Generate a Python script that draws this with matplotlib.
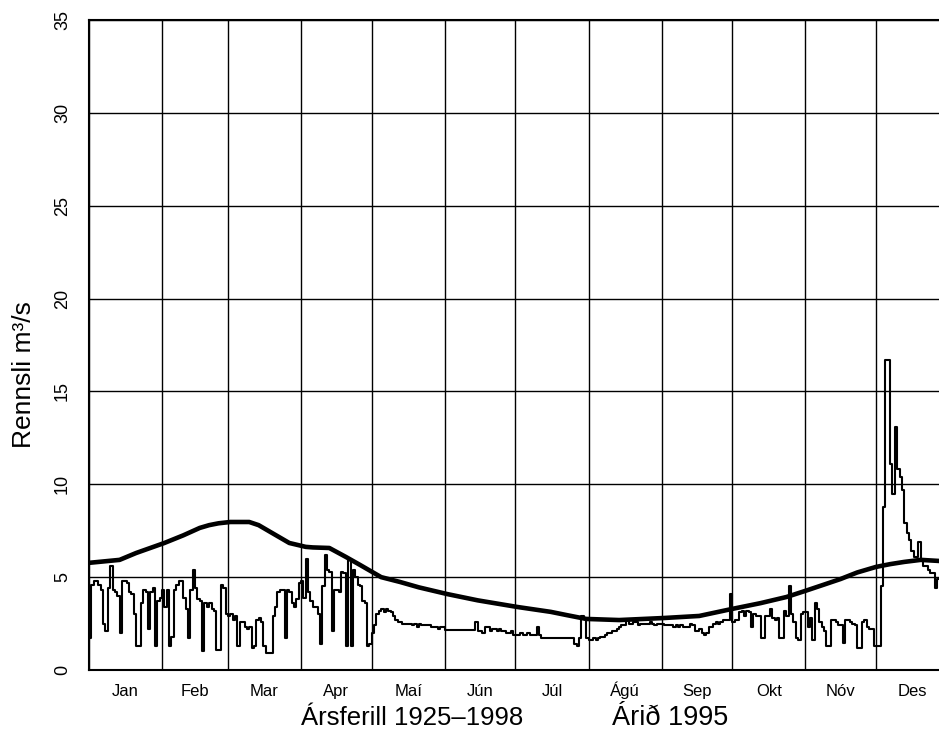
"""
Daily discharge 1995 against the long-term annual curve 1925-1998.
"""

import numpy as np
import matplotlib
matplotlib.use("Agg")
import matplotlib.pyplot as plt

plt.rcParams["font.family"] = ["Liberation Sans", "DejaVu Sans"]

months = ["Jan", "Feb", "Mar", "Apr", "Maí", "Jún", "Júl", "Ágú", "Sep", "Okt", "Nóv", "Des"]
month_days = [31, 28, 31, 30, 31, 30, 31, 31, 30, 31, 30, 31]
y_ticks = [0, 5, 10, 15, 20, 25, 30, 35]

# long-term annual curve 1925-1998 (day of year, m3/s)
curve_day = [0, 13, 20, 32, 40, 47, 51, 55, 60, 68, 72, 77, 85, 92, 95, 102,
             109, 115, 124, 132, 140, 152, 165, 182, 196, 203, 211, 225, 244,
             259, 273, 285, 296, 304, 312, 319, 326, 334, 340, 346, 353, 361, 364]
curve_q = [5.77, 5.93, 6.3, 6.84, 7.25, 7.65, 7.8, 7.9, 7.97, 7.97, 7.8, 7.43,
           6.84, 6.63, 6.6, 6.57, 6.09, 5.66, 5.0, 4.74, 4.45, 4.09, 3.75, 3.39,
           3.13, 2.95, 2.75, 2.69, 2.8, 2.91, 3.29, 3.6, 3.93, 4.26, 4.6, 4.9,
           5.25, 5.55, 5.7, 5.82, 5.93, 5.87, 5.85]

# daily discharge 1995 (m3/s), one value per day
q_jan = [1.7, 4.6, 4.8, 4.8, 4.6, 4.3, 2.5, 2.1, 4.4, 5.6, 4.3, 4.2, 4.0, 2.0,
         4.8, 4.8, 4.7, 4.2, 4.1, 3.0, 1.3, 1.3, 3.6, 4.3, 4.2, 2.2, 4.2, 4.4,
         1.3, 3.7, 3.9]
q_feb = [4.3, 3.4, 4.3, 1.3, 1.8, 4.3, 4.6, 4.8, 4.8, 3.9, 3.3, 1.7, 4.3, 5.4,
         4.4, 3.8, 3.7, 1.0, 3.6, 3.4, 3.6, 3.3, 3.2, 1.1, 1.1, 4.6, 4.4, 3.0]
q_mar = [2.9, 3.0, 2.7, 2.9, 1.3, 2.6, 2.6, 2.3, 2.2, 2.3, 1.2, 1.3, 2.7, 2.8,
         2.6, 1.3, 0.9, 0.9, 0.9, 2.9, 3.4, 4.2, 4.3, 4.3, 1.7, 4.3, 4.2, 3.6,
         3.4, 3.8, 4.7]
q_apr = [4.8, 3.9, 6.0, 4.2, 3.7, 3.4, 3.4, 3.0, 1.4, 4.5, 6.2, 5.4, 5.3, 2.1,
         4.3, 4.3, 4.2, 5.3, 5.2, 1.3, 5.9, 1.3, 5.4, 5.0, 4.6, 4.5, 3.7, 3.6,
         1.3, 1.4]
q_may = [2.0, 2.4, 3.0, 3.2, 3.3, 3.1, 3.3, 3.2, 3.1, 2.9, 2.7, 2.6, 2.6, 2.5,
         2.5, 2.5, 2.5, 2.4, 2.5, 2.3, 2.5, 2.4, 2.4, 2.4, 2.4, 2.3, 2.3, 2.3,
         2.2, 2.3, 2.3]
q_jun = [2.15, 2.15, 2.15, 2.15, 2.15, 2.15, 2.15, 2.15, 2.15, 2.15, 2.15,
         2.15, 2.15, 2.6, 2.1, 2.1, 2.0, 2.3, 2.3, 2.1, 2.2, 2.2, 2.1, 2.2,
         2.1, 2.1, 2.0, 2.0, 2.1, 1.9]
q_jul = [1.9, 1.9, 2.0, 1.9, 1.9, 2.0, 1.9, 1.9, 1.9, 2.3, 1.9, 1.7, 1.7, 1.7,
         1.7, 1.7, 1.7, 1.7, 1.7, 1.7, 1.7, 1.7, 1.7, 1.7, 1.7, 1.4, 1.3, 1.7,
         2.9, 2.8, 1.7]
q_aug = [1.6, 1.6, 1.7, 1.6, 1.7, 1.8, 1.8, 1.9, 2.0, 2.0, 2.1, 2.1, 2.2, 2.3,
         2.4, 2.4, 2.7, 2.5, 2.5, 2.6, 2.6, 2.4, 2.5, 2.5, 2.5, 2.5, 2.6, 2.5,
         2.4, 2.5, 2.5]
q_sep = [2.5, 2.4, 2.4, 2.4, 2.4, 2.3, 2.4, 2.3, 2.4, 2.3, 2.3, 2.3, 2.5, 2.4,
         2.1, 2.1, 2.2, 2.0, 1.9, 2.0, 2.3, 2.3, 2.5, 2.6, 2.5, 2.6, 2.7, 2.7,
         2.7, 4.1]
q_oct = [2.6, 2.7, 2.7, 3.1, 3.2, 2.9, 3.2, 3.1, 2.3, 3.0, 2.9, 2.9, 1.7, 1.7,
         2.9, 2.9, 3.3, 2.8, 2.7, 2.8, 1.7, 1.7, 3.2, 2.9, 4.5, 3.0, 2.6, 1.7,
         1.6, 3.0, 3.1]
q_nov = [3.1, 2.3, 2.8, 1.6, 3.6, 3.3, 2.6, 2.3, 2.1, 1.3, 1.3, 2.7, 2.7, 2.6,
         2.4, 2.4, 1.45, 2.7, 2.7, 2.6, 2.5, 2.4, 1.2, 1.2, 2.6, 2.7, 2.3, 2.2,
         2.2, 1.3]
q_dec = [1.3, 1.3, 4.5, 8.8, 16.7, 16.7, 11.1, 9.5, 13.1, 10.8, 10.4, 9.7, 7.9,
         7.4, 7.0, 6.4, 6.1, 6.1, 6.9, 5.9, 5.6, 5.6, 5.4, 5.2, 5.2, 4.4, 4.9,
         4.8, 4.8, 4.8, 4.8]

q_1995 = q_jan + q_feb + q_mar + q_apr + q_may + q_jun + q_jul + q_aug + q_sep + q_oct + q_nov + q_dec
days = np.arange(len(q_1995))

fig = plt.figure(figsize=(9.39, 7.36), dpi=100)
# plot frame runs past the right edge of the picture, as in the scan
ax = fig.add_axes([89 / 939, 66 / 736, 860 / 939, 650 / 736])

ax.plot(days, q_1995, color="black", lw=1.5, drawstyle="steps-post", zorder=3)
ax.plot(curve_day, curve_q, color="black", lw=3.3, solid_capstyle="round", zorder=4)

starts = np.concatenate([[0], np.cumsum(month_days)[:-1]])
mids = starts + np.array(month_days) / 2
ax.set_xlim(0, 365)
ax.set_ylim(0, 35)
ax.set_xticks(starts)
ax.set_xticks(mids, minor=True)
ax.set_xticklabels([])
ax.set_xticklabels(months, minor=True, fontsize=12)
for lab in ax.get_xticklabels(minor=True):
    lab.set_va("baseline")
ax.set_yticks(y_ticks)
ax.set_yticklabels([str(v) for v in y_ticks], rotation=90, va="center", fontsize=13)
ax.tick_params(axis="both", which="both", length=0)
ax.tick_params(axis="y", pad=13)
ax.tick_params(axis="x", which="minor", pad=19)

ax.grid(True, which="major", color="black", lw=1.0)
for s in ax.spines.values():
    s.set_linewidth(1.5)

ax.set_ylabel("Rennsli m³/s", fontsize=19)
ax.yaxis.set_label_coords(-0.062, 0.455)
fig.text(412 / 939, 1 - 718 / 736, "Ársferill 1925–1998", fontsize=18.5, ha="center", va="center")
fig.text(670 / 939, 1 - 718 / 736, "Árið 1995", fontsize=19.5, ha="center", va="center")

fig.savefig("out.png", dpi=100)
